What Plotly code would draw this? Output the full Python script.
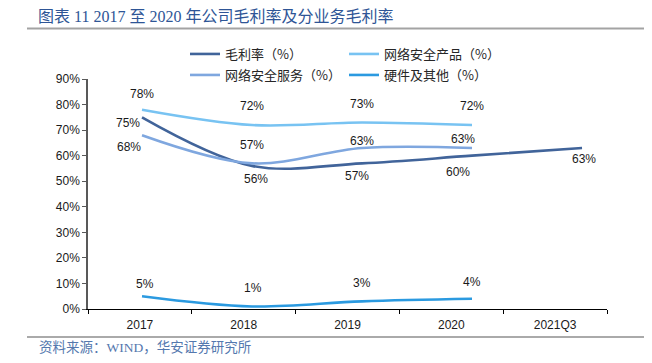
import plotly.graph_objects as go

# ---------------- data ----------------
categories = ["2017", "2018", "2019", "2020", "2021Q3"]
gross_margin = [75, 56, 57, 60, 63]          # 毛利率（%）
security_products = [78, 72, 73, 72]         # 网络安全产品（%）
security_services = [68, 57, 63, 63]         # 网络安全服务（%）
hardware_other = [5, 1, 3, 4]                # 硬件及其他（%）
y_ticks = [0, 10, 20, 30, 40, 50, 60, 70, 80, 90]

series_names = ["毛利率（%）", "网络安全产品（%）", "网络安全服务（%）", "硬件及其他（%）"]

# ---------------- style ----------------
W, H = 652, 363
ML, MR, MT, MB = 88, 45, 79, 54
colors = ["#41649A", "#78C3F2", "#7FA7DF", "#2B9AE0"]
LABEL_FONT = dict(family="Liberation Sans, Arial", size=12, color="#1a1a1a")
CJK = "Noto Sans CJK SC"

# label offsets (px) per series, per point
offsets = [
    [(-14, -6), (4, -13), (-5, -13), (-14, -16), (2, -11)],
    [(0, 16), (0, 19), (0, 18), (0, 19)],
    [(-13, -12), (0, 18), (0, 7), (-9, 9)],
    [(3, 12), (1, 18), (0, 18), (0, 17)],
]

all_series = [gross_margin, security_products, security_services, hardware_other]
legend_ids = ["legend", "legend", "legend2", "legend2"]
n = len(categories)
idx = list(range(n))

fig = go.Figure()
# invisible trace that anchors the category (label) axis
fig.add_trace(go.Scatter(x=idx, y=[None] * n, mode="lines", showlegend=False,
                         hoverinfo="skip", xaxis="x", yaxis="y"))
annotations = []
for i, (vals, name) in enumerate(zip(all_series, series_names)):
    xs = idx[:len(vals)]
    fig.add_trace(go.Scatter(
        x=xs, y=vals, name=name, mode="lines",
        line=dict(color=colors[i], width=2.6, shape="spline", smoothing=1.0),
        xaxis="x2", yaxis="y", legend=legend_ids[i], hoverinfo="skip",
    ))
    for j, (xv, yv) in enumerate(zip(xs, vals)):
        dx, dy = offsets[i][j]
        annotations.append(dict(
            x=xv, y=yv, xref="x2", yref="y", text=f"{yv:.0f}%",
            showarrow=False, xshift=dx, yshift=dy, font=LABEL_FONT,
        ))

plot_w = W - ML - MR
plot_h = H - MT - MB

def px_x(px):
    return (px - ML) / plot_w

def px_y(py):
    return (H - MB - py) / plot_h

# source text
annotations.append(dict(
    x=px_x(37), y=px_y(347), xref="paper", yref="paper", xanchor="left", yanchor="middle",
    text="资料来源：WIND，华安证券研究所", showarrow=False,
    font=dict(family="Liberation Serif, " + CJK, size=13.5, color="#5478AE"),
))

shapes = [
    dict(type="line", xref="paper", yref="paper", x0=px_x(27), x1=px_x(644),
         y0=px_y(28.5), y1=px_y(28.5), line=dict(color="#A3A3A3", width=2)),
    dict(type="line", xref="paper", yref="paper", x0=px_x(27), x1=px_x(644),
         y0=px_y(337), y1=px_y(337), line=dict(color="#8E8E8E", width=1.5)),
]

# data axis: category positions spaced as in the original drawing
x2_range = [-0.491, 4.227]

fig.update_layout(
    width=W, height=H,
    margin=dict(l=ML, r=MR, t=MT, b=MB, pad=0, autoexpand=False),
    paper_bgcolor="white", plot_bgcolor="white",
    title=dict(
        text="图表 11 2017 至 2020 年公司毛利率及分业务毛利率",
        x=38 / W, xref="container", xanchor="left",
        y=1 - 16 / H, yref="container", yanchor="middle",
        font=dict(family="Liberation Serif, " + CJK, size=16, color="#2E5596"),
    ),
    xaxis=dict(
        range=[-0.5, n - 0.5], tickmode="array", tickvals=idx, ticktext=categories,
        ticks="", showline=True, linecolor="#000000", linewidth=1,
        ticklabelstandoff=5,
        minor=dict(tickmode="array", tickvals=[k - 0.5 for k in range(n + 1)],
                   ticks="outside", ticklen=4, tickcolor="#000000", showgrid=False),
        showgrid=False, zeroline=False,
        tickfont=dict(family="Liberation Sans, Arial", size=12, color="#1a1a1a"),
        fixedrange=True,
    ),
    xaxis2=dict(
        overlaying="x", range=x2_range, visible=False, fixedrange=True,
    ),
    yaxis=dict(
        range=[0, 90], tickvals=y_ticks, ticktext=[f"{v}%" for v in y_ticks],
        ticks="outside", ticklen=4, tickcolor="#595959",
        showline=True, linecolor="#595959", linewidth=1.5,
        showgrid=False, zeroline=False,
        tickfont=dict(family="Liberation Sans, Arial", size=12, color="#1a1a1a"),
        fixedrange=True,
    ),
    legend=dict(
        orientation="h", xref="container", yref="container",
        x=185 / W, y=1 - 39 / H, xanchor="left", yanchor="top",
        entrywidth=114, entrywidthmode="pixels",
        font=dict(family=CJK, size=13, color="#262626"),
        bgcolor="rgba(0,0,0,0)", borderwidth=0,
    ),
    legend2=dict(
        orientation="h", xref="container", yref="container",
        x=185 / W, y=1 - 60 / H, xanchor="left", yanchor="top",
        entrywidth=114, entrywidthmode="pixels",
        font=dict(family=CJK, size=13, color="#262626"),
        bgcolor="rgba(0,0,0,0)", borderwidth=0,
    ),
    annotations=annotations,
    shapes=shapes,
    showlegend=True,
)

fig.write_html("out.html", config={"displayModeBar": False},
               post_script="document.body.style.margin='0px';")
